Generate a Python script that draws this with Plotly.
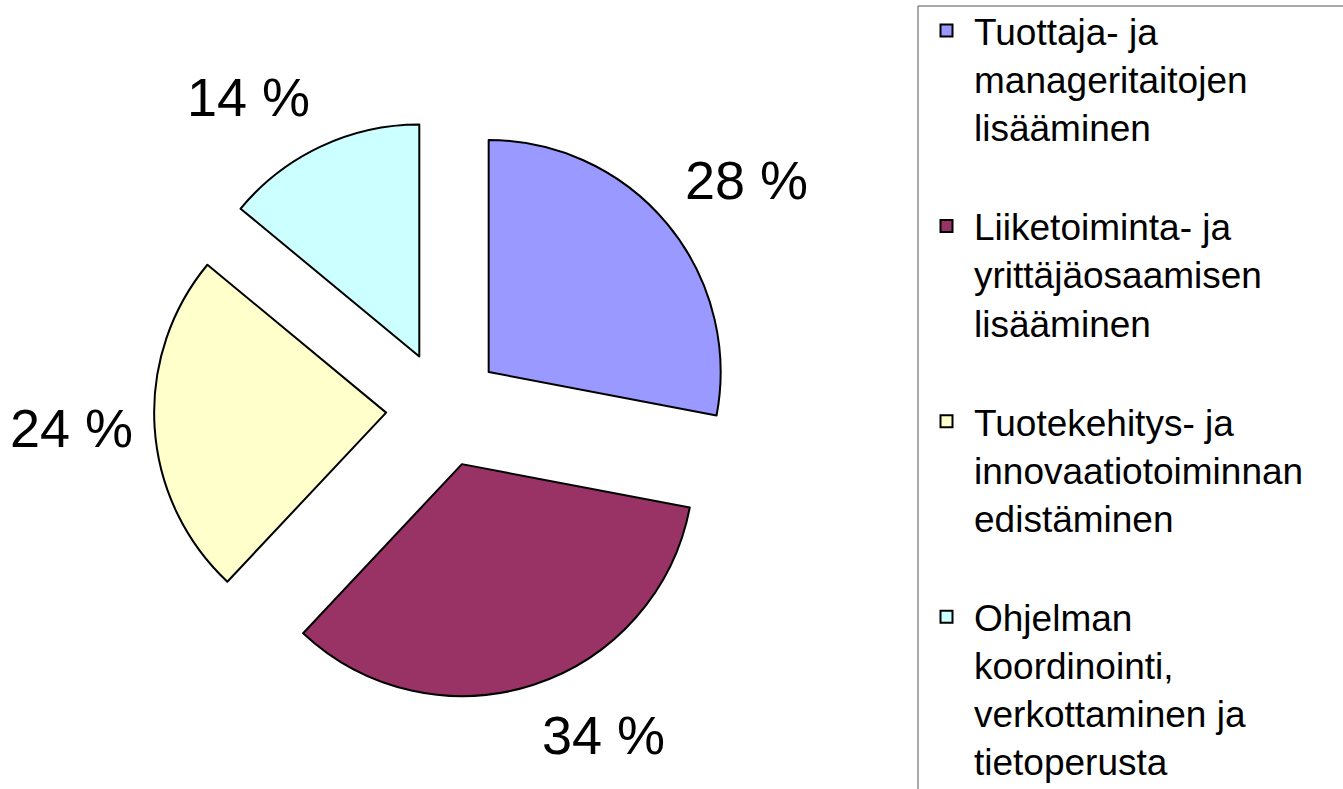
import math
import plotly.graph_objects as go

# ---- data ----
categories = [
    "Tuottaja- ja<br>manageritaitojen<br>lisääminen<br> ",
    "Liiketoiminta- ja<br>yrittäjäosaamisen<br>lisääminen<br> ",
    "Tuotekehitys- ja<br>innovaatiotoiminnan<br>edistäminen<br> ",
    "Ohjelman<br>koordinointi,<br>verkottaminen ja<br>tietoperusta",
]
values = [28, 34, 24, 14]
colors = ["#9999FF", "#993366", "#FFFFCC", "#CCFFFF"]

W, H = 1343, 789
FONT = "Liberation Sans, Arial, sans-serif"

dom_x = [0.1147, 0.5465]
dom_y = [0.1141, 0.8492]
pull = 0.25

fig = go.Figure(go.Pie(
    labels=categories,
    values=values,
    marker=dict(colors=colors, line=dict(color="black", width=2)),
    sort=False,
    direction="clockwise",
    rotation=0,
    pull=[pull] * len(values),
    textinfo="none",
    hoverinfo="skip",
    domain=dict(x=dom_x, y=dom_y),
))

# percentage labels positioned along each slice's bisector
total = sum(values)
cx = (dom_x[0] + dom_x[1]) / 2 * W
cy = (1 - (dom_y[0] + dom_y[1]) / 2) * H
r = min((dom_x[1] - dom_x[0]) * W, (dom_y[1] - dom_y[0]) * H) / 2 / (1 + pull)
d = r * 1.335
cum = 0
for v in values:
    ang = (cum + v / 2) / total * 2 * math.pi
    cum += v
    s, c = math.sin(ang), math.cos(ang)
    px = cx + d * s
    py = cy - d * c
    xa = "left" if s > 0.1 else ("right" if s < -0.1 else "center")
    ya = "bottom" if c > 0.1 else ("top" if c < -0.1 else "middle")
    fig.add_annotation(
        x=px / W, y=1 - py / H, xref="paper", yref="paper",
        text=f"{round(v / total * 100)} %", showarrow=False,
        xanchor=xa, yanchor=ya,
        font=dict(family=FONT, size=54, color="black"),
    )

# legend frame (runs off the right and bottom edges, as in the original)
LX, LY = 918, 6
fig.add_shape(type="line", xref="paper", yref="paper",
              x0=LX / W, x1=1.0, y0=1 - LY / H, y1=1 - LY / H,
              line=dict(color="#555555", width=1))
fig.add_shape(type="line", xref="paper", yref="paper",
              x0=LX / W, x1=LX / W, y0=1 - LY / H, y1=0,
              line=dict(color="#555555", width=1))

fig.update_layout(
    width=W, height=H,
    margin=dict(l=0, r=0, t=0, b=0),
    paper_bgcolor="white",
    plot_bgcolor="white",
    showlegend=True,
    legend=dict(
        x=(LX + 1) / W, y=1 - LY / H, xanchor="left", yanchor="top",
        bgcolor="rgba(0,0,0,0)", borderwidth=0,
        font=dict(family=FONT, size=37, color="black"),
        valign="top", itemwidth=45, maxheight=2000,
    ),
)

fig.write_html("out.html")
